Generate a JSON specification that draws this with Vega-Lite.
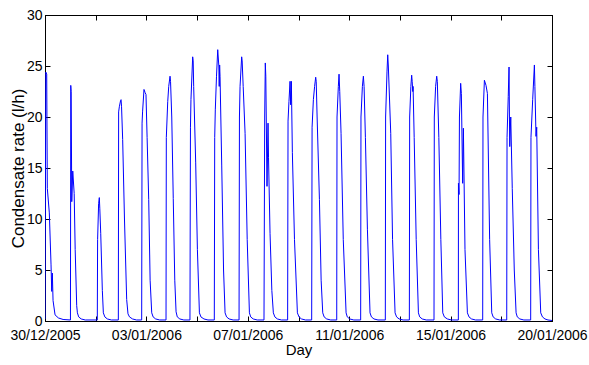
{
"$schema":"https://vega.github.io/schema/vega-lite/v6.json",
"width":507,"height":306,
"autosize":"none",
"padding":{"left":45,"top":15,"right":37,"bottom":44},
"background":"white",
"config":{"view":{"stroke":"black","strokeWidth":1},"axis":{"domainColor":"black","tickColor":"black","labelColor":"black","titleColor":"black","labelFont":"Liberation Sans","titleFont":"Liberation Sans","labelFontSize":14,"titleFontSize":14,"titleFontWeight":"normal","grid":false,"tickSize":-5,"domainWidth":1,"tickWidth":1}},
"data":{"values":[
{"t":"2005-12-30T00:00","v":0.2},{"t":"2005-12-30T00:48","v":24.4},{"t":"2005-12-30T01:42","v":24.2},{"t":"2005-12-30T02:18","v":13.0},{"t":"2005-12-30T04:18","v":10.6},{"t":"2005-12-30T06:00","v":5.5},{"t":"2005-12-30T06:42","v":2.9},{"t":"2005-12-30T07:18","v":4.7},{"t":"2005-12-30T08:00","v":2.0},{"t":"2005-12-30T10:00","v":0.6},{"t":"2005-12-30T13:18","v":0.3},{"t":"2005-12-30T18:00","v":0.15},
{"t":"2005-12-31T01:18","v":0.1},{"t":"2005-12-31T01:36","v":23.1},{"t":"2005-12-31T02:00","v":22.5},{"t":"2005-12-31T02:36","v":11.7},{"t":"2005-12-31T03:36","v":14.7},{"t":"2005-12-31T05:00","v":12.5},{"t":"2005-12-31T06:00","v":7.0},{"t":"2005-12-31T07:30","v":1.5},{"t":"2005-12-31T08:12","v":0.8},{"t":"2005-12-31T09:30","v":0.4},{"t":"2005-12-31T12:00","v":0.2},{"t":"2005-12-31T16:00","v":0.1},
{"t":"2006-01-01T04:00","v":0.1},{"t":"2006-01-01T04:18","v":8.0},{"t":"2006-01-01T05:18","v":11.5},{"t":"2006-01-01T06:00","v":12.1},{"t":"2006-01-01T06:30","v":11.0},{"t":"2006-01-01T07:24","v":8.6},{"t":"2006-01-01T09:00","v":3.0},{"t":"2006-01-01T10:00","v":0.8},{"t":"2006-01-01T11:30","v":0.4},{"t":"2006-01-01T14:00","v":0.2},{"t":"2006-01-01T18:00","v":0.1},
{"t":"2006-01-02T00:54","v":0.1},{"t":"2006-01-02T01:12","v":20.5},{"t":"2006-01-02T01:54","v":21.0},{"t":"2006-01-02T03:06","v":21.6},{"t":"2006-01-02T03:36","v":21.7},{"t":"2006-01-02T04:06","v":21.0},{"t":"2006-01-02T05:12","v":17.8},{"t":"2006-01-02T07:00","v":10.0},{"t":"2006-01-02T09:12","v":2.1},{"t":"2006-01-02T10:30","v":0.7},{"t":"2006-01-02T12:00","v":0.4},{"t":"2006-01-02T15:00","v":0.2},{"t":"2006-01-02T19:00","v":0.1},
{"t":"2006-01-03T00:06","v":0.1},{"t":"2006-01-03T00:30","v":19.4},{"t":"2006-01-03T01:00","v":20.5},{"t":"2006-01-03T02:24","v":22.7},{"t":"2006-01-03T03:30","v":22.4},{"t":"2006-01-03T04:24","v":22.2},{"t":"2006-01-03T05:30","v":18.0},{"t":"2006-01-03T07:06","v":11.9},{"t":"2006-01-03T08:30","v":4.0},{"t":"2006-01-03T10:06","v":0.8},{"t":"2006-01-03T11:30","v":0.4},{"t":"2006-01-03T14:00","v":0.2},{"t":"2006-01-03T18:00","v":0.1},
{"t":"2006-01-04T00:18","v":0.1},{"t":"2006-01-04T00:36","v":18.0},{"t":"2006-01-04T02:00","v":21.5},{"t":"2006-01-04T03:00","v":23.0},{"t":"2006-01-04T04:18","v":24.0},{"t":"2006-01-04T04:48","v":23.5},{"t":"2006-01-04T06:00","v":20.0},{"t":"2006-01-04T07:30","v":12.0},{"t":"2006-01-04T09:00","v":4.0},{"t":"2006-01-04T10:18","v":0.9},{"t":"2006-01-04T11:30","v":0.4},{"t":"2006-01-04T14:00","v":0.2},{"t":"2006-01-04T18:00","v":0.1},
{"t":"2006-01-05T00:06","v":0.1},{"t":"2006-01-05T00:36","v":19.0},{"t":"2006-01-05T01:06","v":21.7},{"t":"2006-01-05T02:48","v":25.9},{"t":"2006-01-05T03:18","v":25.5},{"t":"2006-01-05T03:48","v":23.0},{"t":"2006-01-05T05:48","v":15.5},{"t":"2006-01-05T07:30","v":7.0},{"t":"2006-01-05T09:30","v":0.8},{"t":"2006-01-05T11:00","v":0.4},{"t":"2006-01-05T14:00","v":0.2},{"t":"2006-01-05T18:00","v":0.1},
{"t":"2006-01-06T00:18","v":0.1},{"t":"2006-01-06T00:42","v":18.0},{"t":"2006-01-06T01:18","v":20.7},{"t":"2006-01-06T02:30","v":24.0},{"t":"2006-01-06T03:42","v":26.6},{"t":"2006-01-06T04:48","v":25.0},{"t":"2006-01-06T05:12","v":23.0},{"t":"2006-01-06T05:36","v":25.1},{"t":"2006-01-06T06:00","v":24.0},{"t":"2006-01-06T07:42","v":15.2},{"t":"2006-01-06T09:30","v":5.0},{"t":"2006-01-06T11:00","v":0.8},{"t":"2006-01-06T12:30","v":0.4},{"t":"2006-01-06T15:00","v":0.2},{"t":"2006-01-06T19:00","v":0.1},
{"t":"2006-01-07T00:54","v":0.1},{"t":"2006-01-07T01:18","v":20.0},{"t":"2006-01-07T01:54","v":23.0},{"t":"2006-01-07T03:30","v":25.9},{"t":"2006-01-07T04:00","v":25.5},{"t":"2006-01-07T05:00","v":23.0},{"t":"2006-01-07T06:54","v":18.4},{"t":"2006-01-07T09:00","v":8.0},{"t":"2006-01-07T11:12","v":0.8},{"t":"2006-01-07T12:30","v":0.4},{"t":"2006-01-07T15:00","v":0.2},{"t":"2006-01-07T19:00","v":0.1},
{"t":"2006-01-08T01:42","v":0.1},{"t":"2006-01-08T02:24","v":20.0},{"t":"2006-01-08T03:00","v":25.3},{"t":"2006-01-08T03:30","v":24.0},{"t":"2006-01-08T04:42","v":13.2},{"t":"2006-01-08T05:42","v":19.4},{"t":"2006-01-08T06:12","v":16.0},{"t":"2006-01-08T07:42","v":8.6},{"t":"2006-01-08T09:30","v":3.0},{"t":"2006-01-08T11:00","v":0.8},{"t":"2006-01-08T12:30","v":0.4},{"t":"2006-01-08T15:00","v":0.2},{"t":"2006-01-08T19:00","v":0.1},
{"t":"2006-01-09T01:12","v":0.1},{"t":"2006-01-09T01:36","v":19.6},{"t":"2006-01-09T02:30","v":21.5},{"t":"2006-01-09T03:36","v":23.5},{"t":"2006-01-09T04:12","v":21.2},{"t":"2006-01-09T04:54","v":23.5},{"t":"2006-01-09T05:54","v":16.5},{"t":"2006-01-09T08:00","v":8.0},{"t":"2006-01-09T10:54","v":0.8},{"t":"2006-01-09T12:30","v":0.4},{"t":"2006-01-09T15:00","v":0.2},{"t":"2006-01-09T19:00","v":0.1},
{"t":"2006-01-10T01:06","v":0.1},{"t":"2006-01-10T01:30","v":19.0},{"t":"2006-01-10T02:48","v":21.7},{"t":"2006-01-10T04:00","v":23.0},{"t":"2006-01-10T05:06","v":23.9},{"t":"2006-01-10T05:36","v":23.5},{"t":"2006-01-10T06:30","v":20.0},{"t":"2006-01-10T08:48","v":11.9},{"t":"2006-01-10T10:30","v":4.0},{"t":"2006-01-10T12:06","v":0.8},{"t":"2006-01-10T13:30","v":0.4},{"t":"2006-01-10T16:00","v":0.2},{"t":"2006-01-10T20:00","v":0.1},
{"t":"2006-01-11T02:00","v":0.1},{"t":"2006-01-11T02:18","v":20.0},{"t":"2006-01-11T03:36","v":23.0},{"t":"2006-01-11T04:18","v":24.2},{"t":"2006-01-11T05:00","v":22.5},{"t":"2006-01-11T06:18","v":18.4},{"t":"2006-01-11T08:30","v":8.0},{"t":"2006-01-11T11:18","v":0.8},{"t":"2006-01-11T12:30","v":0.4},{"t":"2006-01-11T15:00","v":0.2},{"t":"2006-01-11T19:00","v":0.1},
{"t":"2006-01-12T01:48","v":0.1},{"t":"2006-01-12T02:06","v":20.0},{"t":"2006-01-12T03:30","v":23.0},{"t":"2006-01-12T04:30","v":24.0},{"t":"2006-01-12T05:12","v":23.0},{"t":"2006-01-12T06:30","v":18.0},{"t":"2006-01-12T08:30","v":9.0},{"t":"2006-01-12T11:06","v":0.8},{"t":"2006-01-12T12:30","v":0.4},{"t":"2006-01-12T15:00","v":0.2},{"t":"2006-01-12T19:00","v":0.1},
{"t":"2006-01-13T02:18","v":0.1},{"t":"2006-01-13T02:36","v":20.0},{"t":"2006-01-13T04:00","v":24.5},{"t":"2006-01-13T04:42","v":26.1},{"t":"2006-01-13T05:18","v":25.0},{"t":"2006-01-13T07:42","v":18.4},{"t":"2006-01-13T09:30","v":8.0},{"t":"2006-01-13T12:00","v":0.8},{"t":"2006-01-13T13:30","v":0.4},{"t":"2006-01-13T16:00","v":0.2},{"t":"2006-01-13T20:00","v":0.1},
{"t":"2006-01-14T02:12","v":0.1},{"t":"2006-01-14T02:30","v":20.0},{"t":"2006-01-14T03:42","v":23.0},{"t":"2006-01-14T04:30","v":24.1},{"t":"2006-01-14T05:00","v":23.5},{"t":"2006-01-14T05:36","v":22.5},{"t":"2006-01-14T05:54","v":23.0},{"t":"2006-01-14T07:00","v":18.0},{"t":"2006-01-14T09:00","v":8.0},{"t":"2006-01-14T11:12","v":0.8},{"t":"2006-01-14T12:30","v":0.4},{"t":"2006-01-14T15:00","v":0.2},{"t":"2006-01-14T19:00","v":0.1},
{"t":"2006-01-15T02:42","v":0.1},{"t":"2006-01-15T03:00","v":20.0},{"t":"2006-01-15T04:18","v":23.0},{"t":"2006-01-15T05:24","v":24.0},{"t":"2006-01-15T06:00","v":23.5},{"t":"2006-01-15T07:30","v":18.0},{"t":"2006-01-15T09:30","v":8.0},{"t":"2006-01-15T11:24","v":0.8},{"t":"2006-01-15T13:00","v":0.4},{"t":"2006-01-15T16:00","v":0.2},{"t":"2006-01-15T20:00","v":0.1},
{"t":"2006-01-16T02:54","v":0.1},{"t":"2006-01-16T03:00","v":13.5},{"t":"2006-01-16T03:36","v":12.4},{"t":"2006-01-16T04:00","v":20.0},{"t":"2006-01-16T05:12","v":23.3},{"t":"2006-01-16T05:54","v":22.3},{"t":"2006-01-16T07:12","v":13.5},{"t":"2006-01-16T07:54","v":18.9},{"t":"2006-01-16T09:30","v":7.0},{"t":"2006-01-16T11:54","v":0.8},{"t":"2006-01-16T13:30","v":0.4},{"t":"2006-01-16T16:00","v":0.2},{"t":"2006-01-16T20:00","v":0.1},
{"t":"2006-01-17T03:06","v":0.1},{"t":"2006-01-17T03:24","v":20.0},{"t":"2006-01-17T04:48","v":23.6},{"t":"2006-01-17T06:24","v":23.1},{"t":"2006-01-17T07:48","v":22.3},{"t":"2006-01-17T10:00","v":8.0},{"t":"2006-01-17T12:06","v":0.8},{"t":"2006-01-17T13:30","v":0.4},{"t":"2006-01-17T16:00","v":0.2},{"t":"2006-01-17T20:00","v":0.1},
{"t":"2006-01-18T03:00","v":0.1},{"t":"2006-01-18T03:18","v":18.0},{"t":"2006-01-18T04:30","v":22.0},{"t":"2006-01-18T05:18","v":24.9},{"t":"2006-01-18T05:42","v":20.0},{"t":"2006-01-18T06:00","v":17.1},{"t":"2006-01-18T07:00","v":20.0},{"t":"2006-01-18T08:30","v":13.0},{"t":"2006-01-18T10:30","v":5.0},{"t":"2006-01-18T12:18","v":0.8},{"t":"2006-01-18T13:30","v":0.4},{"t":"2006-01-18T16:00","v":0.2},{"t":"2006-01-18T20:00","v":0.1},
{"t":"2006-01-19T02:48","v":0.1},{"t":"2006-01-19T03:06","v":18.0},{"t":"2006-01-19T04:48","v":21.7},{"t":"2006-01-19T06:30","v":25.1},{"t":"2006-01-19T07:00","v":23.0},{"t":"2006-01-19T08:06","v":18.1},{"t":"2006-01-19T08:48","v":19.0},{"t":"2006-01-19T10:30","v":7.0},{"t":"2006-01-19T12:48","v":0.8},{"t":"2006-01-19T14:30","v":0.4},{"t":"2006-01-19T17:00","v":0.2},{"t":"2006-01-19T20:00","v":0.1},
{"t":"2006-01-20T00:00","v":0.05}
]},
"layer":[
{"mark":{"type":"line","color":"#0000ff","strokeWidth":1,"clip":true},
 "encoding":{
  "x":{"field":"t","type":"temporal",
   "scale":{"domain":[{"year":2005,"month":12,"date":30,"hours":0},{"year":2006,"month":1,"date":20,"hours":0}]},
   "axis":{"orient":"bottom","title":"Day","titleFontSize":15,"labelFlush":false,"labelPadding":12,"titlePadding":0,
    "values":[{"year":2005,"month":12,"date":30,"hours":0,"minutes":0},{"year":2006,"month":1,"date":1,"hours":2,"minutes":24},{"year":2006,"month":1,"date":3,"hours":4,"minutes":48},{"year":2006,"month":1,"date":5,"hours":7,"minutes":12},{"year":2006,"month":1,"date":7,"hours":9,"minutes":36},{"year":2006,"month":1,"date":9,"hours":12,"minutes":0},{"year":2006,"month":1,"date":11,"hours":14,"minutes":24},{"year":2006,"month":1,"date":13,"hours":16,"minutes":48},{"year":2006,"month":1,"date":15,"hours":19,"minutes":12},{"year":2006,"month":1,"date":17,"hours":21,"minutes":36},{"year":2006,"month":1,"date":20,"hours":0,"minutes":0}],
    "labelExpr":"(hours(datum.value)*60 + minutes(datum.value)) % 288 == 0 ? timeFormat(datum.value, '%d/%m/%Y') : ''"}},
  "y":{"field":"v","type":"quantitative","scale":{"domain":[0,30],"nice":false},
   "axis":{"orient":"left","title":"Condensate rate (l/h)","values":[0,5,10,15,20,25,30],"titleFontSize":17,"labelPadding":8,"titlePadding":-1}}
 }},
{"mark":{"type":"line","opacity":0},
 "encoding":{
  "x":{"field":"t","type":"temporal",
   "axis":{"orient":"top","title":null,"labels":false,
    "values":[{"year":2005,"month":12,"date":30,"hours":0,"minutes":0},{"year":2006,"month":1,"date":1,"hours":2,"minutes":24},{"year":2006,"month":1,"date":3,"hours":4,"minutes":48},{"year":2006,"month":1,"date":5,"hours":7,"minutes":12},{"year":2006,"month":1,"date":7,"hours":9,"minutes":36},{"year":2006,"month":1,"date":9,"hours":12,"minutes":0},{"year":2006,"month":1,"date":11,"hours":14,"minutes":24},{"year":2006,"month":1,"date":13,"hours":16,"minutes":48},{"year":2006,"month":1,"date":15,"hours":19,"minutes":12},{"year":2006,"month":1,"date":17,"hours":21,"minutes":36},{"year":2006,"month":1,"date":20,"hours":0,"minutes":0}]}},
  "y":{"field":"v","type":"quantitative","axis":{"orient":"right","title":null,"labels":false,"values":[0,5,10,15,20,25,30]}}
 }}
],
"resolve":{"axis":{"x":"independent","y":"independent"}}
}
